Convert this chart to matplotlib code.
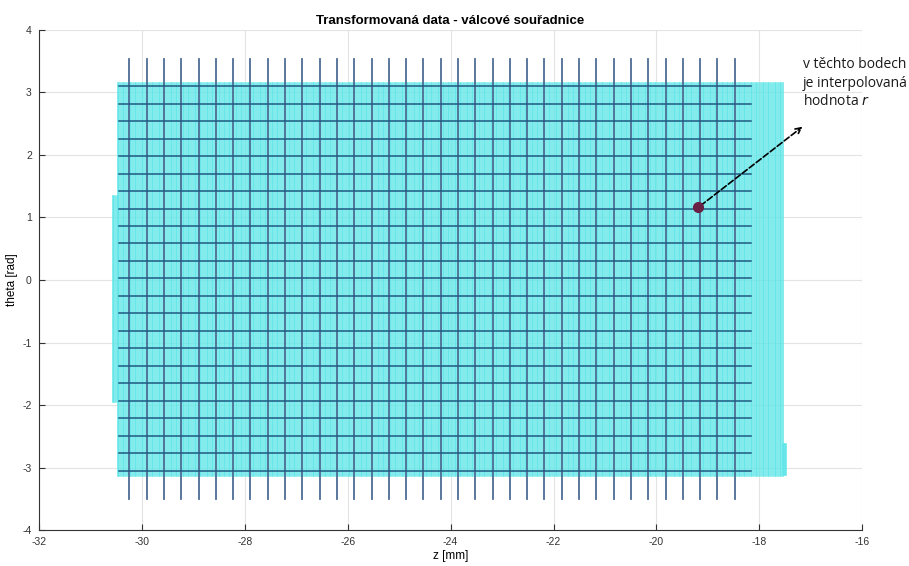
import numpy as np
import matplotlib
matplotlib.use("Agg")
import matplotlib.pyplot as plt

plt.rcParams["axes.unicode_minus"] = False

# measured scan (cyan) lines: z range and theta range
scan_z_start, scan_z_end, scan_count = -30.47, -17.54, 390
scan_theta = [-3.13, 3.15]
# partial scan lines at the left and right edge: (z0, z1, theta0, theta1)
edge_scans = [(-30.56, -30.47, -1.95, 1.35),
              (-17.54, -17.49, -3.12, -2.62)]

# interpolation grid
grid_z = np.linspace(-30.24, -18.48, 36)
grid_theta = np.linspace(-3.05, 3.10, 23)
vline_theta = [-3.5, 3.54]
hline_z = [-30.45, -18.17]

# highlighted point and label
point_z, point_theta = -19.19, 1.16
arrow_tip = (-17.12, 2.48)
note_lines = ["v těchto bodech", "je interpolovaná", "hodnota $\\mathit{r}$"]

fig = plt.figure(figsize=(9.09, 5.66), dpi=100)
ax = fig.add_axes([0.0427, 0.0636, 0.906, 0.8834])

for z in np.linspace(scan_z_start, scan_z_end, scan_count):
    ax.plot([z, z], scan_theta, color="#5fe6e8", lw=1.1, zorder=2)
for z0, z1, t0, t1 in edge_scans:
    for z in np.linspace(z0, z1, 4):
        ax.plot([z, z], [t0, t1], color="#5fe6e8", lw=1.1, zorder=2)

for z in grid_z:
    ax.plot([z, z], vline_theta, color="#4d6c94", lw=1.3, zorder=3)
for t in grid_theta:
    ax.plot(hline_z, [t, t], color="#1f5a80", lw=1.1, zorder=4)

ax.plot(point_z, point_theta, "o", ms=7, color="#6a1f45", zorder=6)
ax.annotate("", xy=arrow_tip, xytext=(point_z, point_theta),
            arrowprops=dict(arrowstyle="->", ls="--", lw=1.2, color="black"),
            zorder=5)
for i, line in enumerate(note_lines):
    ax.text(-17.15, 3.44 - i * 0.295, line, fontsize=10, family="Open Sans",
            va="center", ha="left", color="#1a1a1a")

ax.set_xlim(-32, -16)
ax.set_ylim(-4, 4)
ax.set_xticks(np.arange(-32, -15, 2))
ax.set_yticks(np.arange(-4, 5, 1))
ax.grid(True, color="#e3e3e3", lw=0.8, zorder=0)
ax.set_axisbelow(True)
for side in ["top", "right"]:
    ax.spines[side].set_visible(False)
for side in ["left", "bottom"]:
    ax.spines[side].set_color("#333333")
    ax.spines[side].set_linewidth(0.8)
ax.tick_params(direction="in", length=4, width=0.8, labelsize=7.5,
               colors="#333333", pad=5)
for lab in ax.get_xticklabels() + ax.get_yticklabels():
    lab.set_family("Liberation Sans")

ax.set_title("Transformovaná data - válcové souřadnice", fontsize=9.5,
             fontweight="bold", family="Liberation Sans", pad=4)
ax.set_xlabel("z [mm]", fontsize=8.5, family="Liberation Sans", labelpad=2)
ax.set_ylabel("theta [rad]", fontsize=8.5, family="Liberation Sans", labelpad=3)

fig.savefig("out.png", dpi=100)
